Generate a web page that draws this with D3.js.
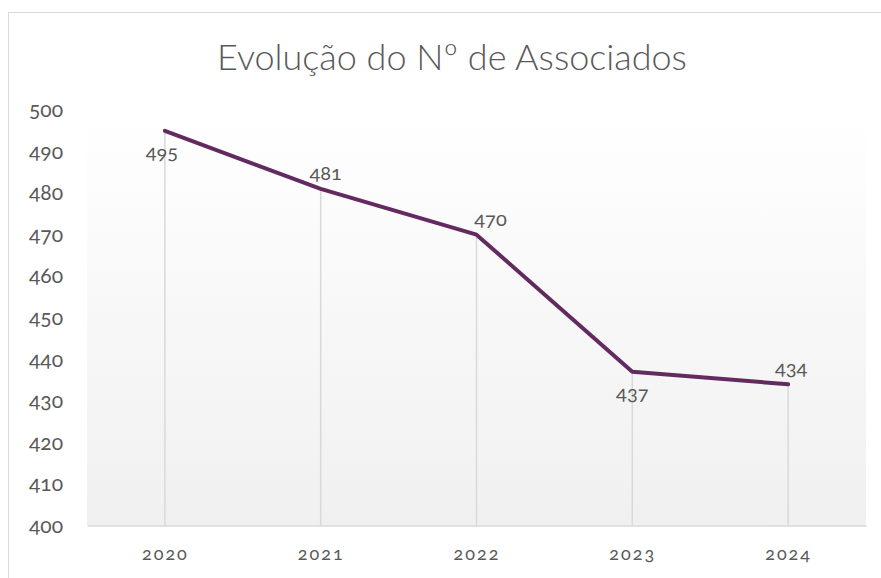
<!DOCTYPE html>
<html>
<head>
<meta charset="utf-8">
<script src="https://cdn.jsdelivr.net/npm/d3@7"></script>
<style>
  body { margin: 0; background: #fff; }
  text { font-family: Lato, "Open Sans", sans-serif; font-variant-numeric: oldstyle-nums; fill: #595959; }
</style>
</head>
<body>
<svg width="881" height="578"></svg>
<script>
const years = ["2020", "2021", "2022", "2023", "2024"];
const members = [495, 481, 470, 437, 434];
const yTicks = [400, 410, 420, 430, 440, 450, 460, 470, 480, 490, 500];
const labelSide = ["below", "above", "above", "below", "above"];

const svg = d3.select("svg");
const width = +svg.attr("width");
const height = +svg.attr("height");

const margin = { top: 110, right: 15, bottom: 52.5, left: 87 };
const innerWidth = width - margin.left - margin.right;
const innerHeight = height - margin.top - margin.bottom;

// chart frame
svg.append("rect")
	.attr("x", 8.5).attr("y", 12.5)
	.attr("width", width + 10).attr("height", height + 10)
	.attr("fill", "#fff")
	.attr("stroke", "#d9d9d9");

const defs = svg.append("defs");
const grad = defs.append("linearGradient")
	.attr("id", "bg").attr("x1", 0).attr("x2", 0).attr("y1", 0).attr("y2", 1);
grad.append("stop").attr("offset", "0%").attr("stop-color", "#ffffff");
grad.append("stop").attr("offset", "100%").attr("stop-color", "#f0f0f0");

svg.append("text")
	.attr("x", 452).attr("y", 70)
	.attr("text-anchor", "middle")
	.style("font-size", "36px")
	.style("font-weight", 300)
	.text("Evolução do Nº de Associados");

const xScale = d3.scalePoint()
	.domain(years)
	.range([0, innerWidth])
	.padding(0.5);

const yScale = d3.scaleLinear()
	.domain([400, 500])
	.range([innerHeight, 0]);

const g = svg.append("g")
	.attr("transform", `translate(${margin.left}, ${margin.top})`);

g.append("rect")
	.attr("width", innerWidth).attr("height", innerHeight)
	.attr("fill", "url(#bg)");

// y axis labels only
const yAxis = d3.axisLeft(yScale).tickValues(yTicks).tickSize(0).tickPadding(24);
const yG = g.append("g").call(yAxis);
yG.select(".domain").remove();
yG.selectAll("text").style("font-size", "21px").attr("fill", "#595959");

// x axis
const xAxis = d3.axisBottom(xScale).tickSize(0).tickPadding(22);
const xG = g.append("g")
	.attr("transform", `translate(0, ${innerHeight})`)
	.call(xAxis);
xG.select(".domain").attr("stroke", "#d9d9d9").attr("stroke-width", 1.5);
xG.selectAll("text").style("font-size", "18px").style("letter-spacing", "2px").attr("fill", "#595959");

const data = years.map((y, i) => ({ year: y, value: members[i], side: labelSide[i] }));

// drop lines
g.selectAll("line.drop").data(data)
	.enter().append("line")
		.attr("class", "drop")
		.attr("x1", d => xScale(d.year)).attr("x2", d => xScale(d.year))
		.attr("y1", d => yScale(d.value)).attr("y2", innerHeight)
		.attr("stroke", "#d9d9d9").attr("stroke-width", 1.5);

const line = d3.line()
	.x(d => xScale(d.year))
	.y(d => yScale(d.value));

g.append("path")
	.datum(data)
	.attr("d", line)
	.attr("fill", "none")
	.attr("stroke", "#632a60")
	.attr("stroke-width", 4)
	.attr("stroke-linecap", "round")
	.attr("stroke-linejoin", "round");

g.selectAll("text.lbl").data(data)
	.enter().append("text")
		.attr("class", "lbl")
		.attr("x", (d, i) => xScale(d.year) + [-3, 5, 14, 0, 3][i])
		.attr("y", d => yScale(d.value) + (d.side === "below" ? 28 : -9))
		.attr("text-anchor", "middle")
		.style("font-size", "20px")
		.text(d => d.value);
</script>
</body>
</html>
